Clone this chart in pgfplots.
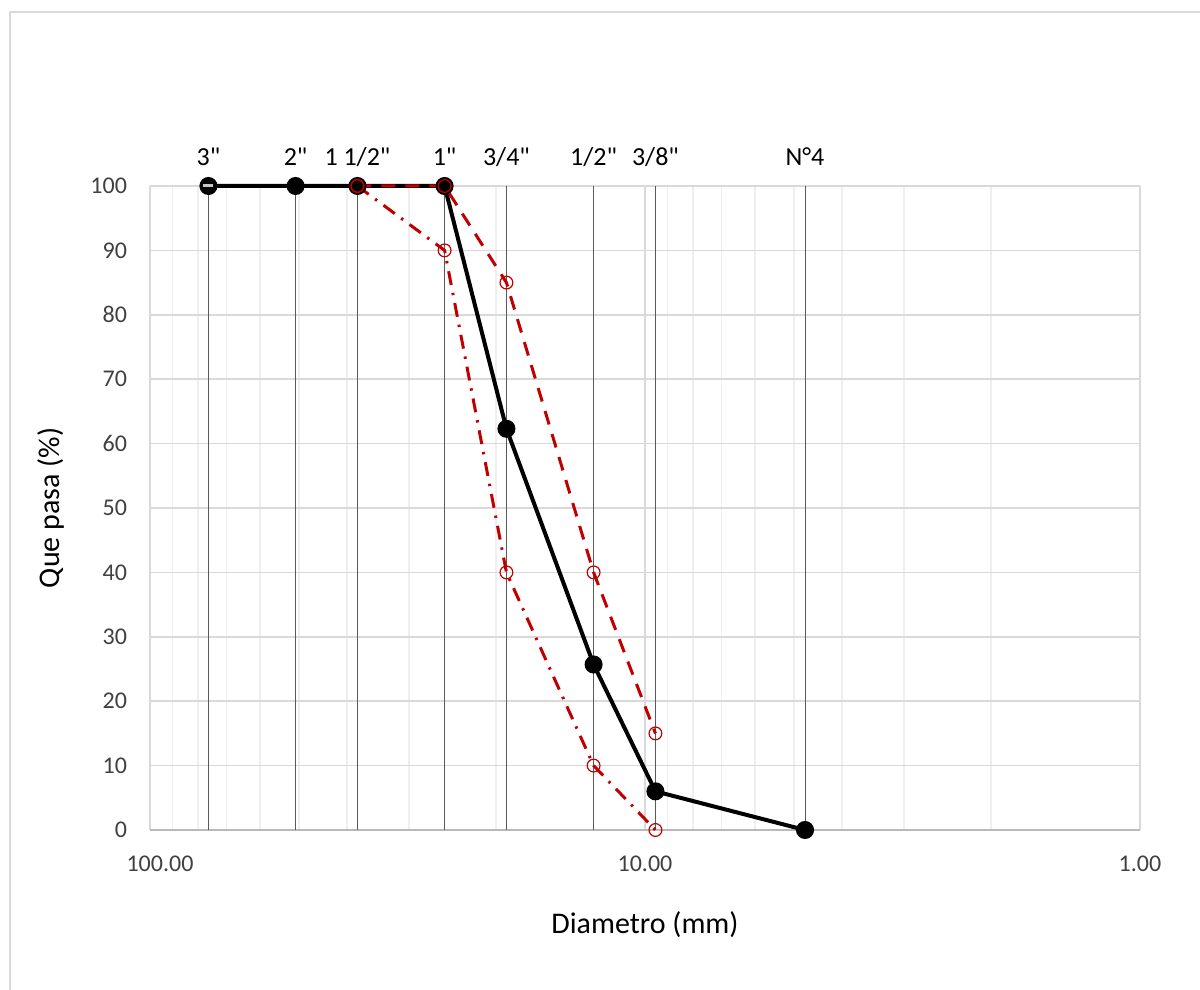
\documentclass[border=0pt]{standalone}
\usepackage{fontspec}
\setmainfont{Carlito}[Ligatures=TeXOff]
\usepackage{pgfplots}
\pgfplotsset{compat=1.18}
\definecolor{exred}{HTML}{C00000}
\definecolor{gridmaj}{HTML}{D9D9D9}
\definecolor{gridmin}{HTML}{EFEFEF}
\definecolor{sieve}{HTML}{595959}
\definecolor{ticktxt}{HTML}{404040}

\begin{document}
\begin{tikzpicture}
\begin{axis}[
  at={(0,0)}, anchor=south west,
  scale only axis, width=495pt, height=322pt,
  xmode=log, x dir=reverse,
  xmin=1, xmax=100, ymin=0, ymax=100,
  xtick={1,10,100}, xticklabels={1.00,10.00,\hspace*{10pt}100.00},
  minor xtick={2,3,4,5,6,7,8,9,20,30,40,50,60,70,80,90},
  ytick={0,10,...,100},
  /pgf/number format/assume math mode=true,
  xmajorgrids, xminorgrids, ymajorgrids,
  major grid style={gridmaj, line width=0.8pt},
  minor grid style={gridmin, line width=0.8pt},
  major tick length=0pt, minor tick length=0pt,
  axis x line*=bottom, axis y line*=left,
  x axis line style={gray!55, line width=1pt, -},
  y axis line style={draw=none},
  tick label style={font=\fontsize{12}{14}\selectfont, text=ticktxt},
  xticklabel style={anchor=base, yshift=-21pt},
  yticklabel style={anchor=east, xshift=-8pt},
  xlabel={Diametro (mm)}, ylabel={Que pasa (\%)},
  label style={font=\fontsize{15}{18}\selectfont},
  x label style={at={(axis description cs:0.5,-0.1475)}, anchor=center},
  y label style={at={(axis description cs:-0.1,0.5)}, anchor=center},
  clip=false,
]
% sieve lines
\addplot[ycomb, sieve, line width=0.5pt, no marks] coordinates {
  (76.2,100)(50.8,100)(38.1,100)(25.4,100)(19.05,100)(12.7,100)(9.525,100)(4.75,100)};
% sieve labels
\addplot[draw=none, mark=none, nodes near coords, point meta=explicit symbolic,
  every node near coord/.append style={anchor=base, yshift=10pt, inner sep=0pt,
    font=\fontsize{13}{15}\selectfont, text=black}]
  coordinates {
  (76.2,100) [3"]
  (50.8,100) [2"]
  (38.1,100) [1 1/2"]
  (25.4,100) [1"]
  (19.05,100) [3/4"]
  (12.7,100) [1/2"]
  (9.525,100) [3/8"]
  (4.75,100) [N°4]
};
% gradation curve
\addplot[black, line width=2pt, mark=*, mark size=3.5pt] coordinates {
  (76.2,100)(50.8,100)(38.1,100)(25.4,100)(19.05,62.3)(12.7,25.7)(9.525,6)(4.75,0)};
\addplot[only marks, mark=-, gray!45, mark size=2.5pt, line width=1.5pt] coordinates {
  (76.2,100)};
% upper limit
\addplot[exred, line width=1.5pt, dash pattern=on 7pt off 5pt,
  mark=o, mark size=3.2pt, mark options={solid, line width=0.6pt, fill=none}] coordinates {
  (38.1,100)(25.4,100)(19.05,85)(12.7,40)(9.525,15)};
% lower limit
\addplot[exred, line width=1.5pt, dash pattern=on 7pt off 4pt on 1.2pt off 4pt,
  mark=o, mark size=3.2pt, mark options={solid, line width=0.6pt, fill=none}] coordinates {
  (38.1,100)(25.4,90)(19.05,40)(12.7,10)(9.525,0)};
\end{axis}
\draw[gridmaj, line width=1pt] (-70pt,-90pt) |- (530pt,409pt);
\pgfresetboundingbox
\useasboundingbox (-75pt,-80pt) rectangle (525pt,415pt);
\end{tikzpicture}
\end{document}
